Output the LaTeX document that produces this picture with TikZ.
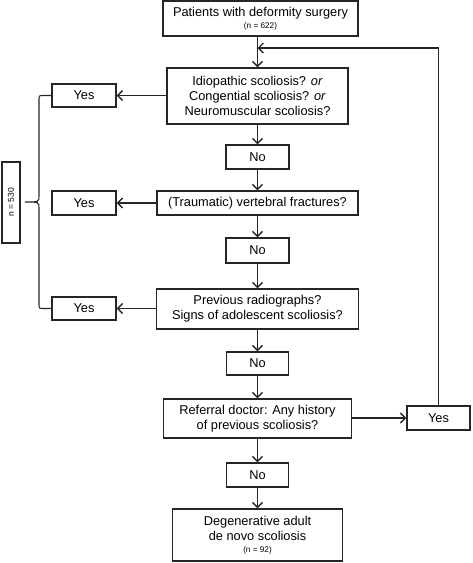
\documentclass[tikz,border=0pt]{standalone}
\usepackage{fontspec}
\setmainfont{Liberation Sans}
\usetikzlibrary{arrows.meta}
\begin{document}
\begin{tikzpicture}[x=1pt,y=-1pt,
  box/.style={draw=black!85,line width=1.1pt,rectangle,inner sep=0pt,align=center,font=\fontsize{12.8}{15}\selectfont},
  line/.style={draw=black!85,line width=1.1pt},
  arr/.style={line,-{Straight Barb[length=5pt,width=10pt,line width=1.4pt]}},
  small/.style={font=\fontsize{8.5}{9}\selectfont}]
\useasboundingbox (0,0) rectangle (472,563);
\node[box,minimum width=195pt,minimum height=35pt] (top) at (260.5,18.5) {Patients with deformity surgery\\[-3pt]{\fontsize{8.2}{8}\selectfont (n = 622)}};
\node[box,minimum width=181pt,minimum height=56pt] (q1) at (257.5,96) {Idiopathic scoliosis? \textit{or}\\Congential scoliosis? \textit{or}\\Neuromuscular scoliosis?};
\node[box,minimum width=63pt,minimum height=24pt] (no1) at (257.5,157) {No};
\node[box,minimum width=201pt,minimum height=24pt] (q2) at (257.5,203) {(Traumatic) vertebral fractures?};
\node[box,minimum width=63pt,minimum height=25pt] (no2) at (257.5,250.5) {No};
\node[box,minimum width=202pt,minimum height=40pt] (q3) at (257.5,309) {Previous radiographs?\\Signs of adolescent scoliosis?};
\node[box,minimum width=62pt,minimum height=23pt] (no3) at (257.5,363.5) {No};
\node[box,minimum width=188pt,minimum height=39pt] (q4) at (257.5,418.5) {Referral doctor: Any history\\of previous scoliosis?};
\node[box,minimum width=62pt,minimum height=24pt] (no4) at (257.5,475) {No};
\node[box,minimum width=170pt,minimum height=52pt] (fin) at (257.5,535) {Degenerative adult\\de novo scoliosis\\[-3pt]{\fontsize{8.2}{8}\selectfont (n = 92)}};
\node[box,minimum width=64pt,minimum height=23pt] (y1) at (84,95.5) {Yes};
\node[box,minimum width=64pt,minimum height=24pt] (y2) at (84,203) {Yes};
\node[box,minimum width=64pt,minimum height=23pt] (y3) at (84,308.5) {Yes};
\node[box,minimum width=63pt,minimum height=24pt] (y4) at (438.5,418) {Yes};
\node[box,minimum width=18pt,minimum height=81pt] (n530) at (11,202.5) {};
\node[rotate=90,small,inner sep=0pt] (n530t) at (n530.center) {n = 530};
\coordinate (loopend) at (257.5,48);
\coordinate (loopcorner) at (438.5,48);
\coordinate (tip) at (25,202);
% main flow
\draw[arr] (top.south -| q1.north) -- (q1.north);
\draw[arr] (q1.south) -- (no1.north);
\draw[arr] (no1.south) -- (q2.north);
\draw[arr] (q2.south) -- (no2.north);
\draw[arr] (no2.south) -- (q3.north);
\draw[arr] (q3.south) -- (no3.north);
\draw[arr] (no3.south) -- (q4.north);
\draw[arr] (q4.south) -- (no4.north);
\draw[arr] (no4.south) -- (fin.north);
% yes arrows
\draw[arr] (q1.west |- y1.east) -- (y1.east);
\draw[arr] (q2.west) -- (y2.east);
\draw[arr] (q3.west |- y3.east) -- (y3.east);
\draw[arr] (q4.east |- y4.west) -- (y4.west);
% loop back
\draw[line] (y4.north) -- (loopcorner);
\draw[arr] (loopcorner) -- (loopend);
% brace
\draw[line] (y1.west) -- ++(-8,0) .. controls (39,95.5) .. (39,100) -- (39,196)
  .. controls (39,202) .. (tip) .. controls (39,202) .. (39,208) -- (39,304)
  .. controls (39,308.5) .. (44,308.5) -- (y3.west);
\end{tikzpicture}
\end{document}
